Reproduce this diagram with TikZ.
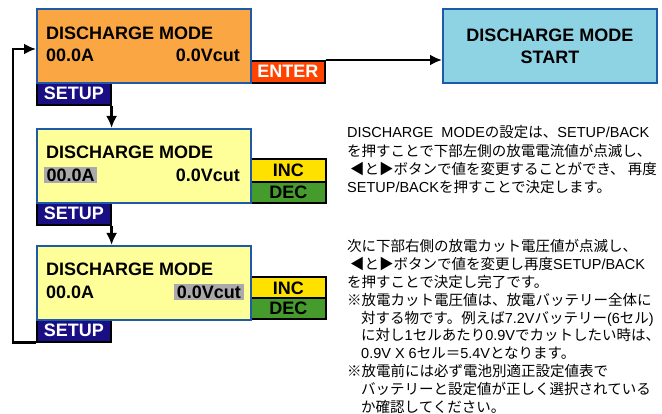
\documentclass[tikz,border=0pt]{standalone}
\usepackage{fontspec}
\setmainfont{Liberation Sans}
\newfontfamily\jp{Noto Sans CJK JP}
\usetikzlibrary{arrows.meta,calc}
\definecolor{orangefill}{RGB}{250,166,66}
\definecolor{yellowfill}{RGB}{255,255,153}
\definecolor{startfill}{RGB}{142,211,228}
\definecolor{boxblue}{RGB}{30,90,170}
\definecolor{setupnavy}{RGB}{25,15,130}
\definecolor{enterred}{RGB}{255,68,0}
\definecolor{incyellow}{RGB}{255,225,0}
\definecolor{decgreen}{RGB}{70,155,45}
\definecolor{hlgray}{RGB}{170,170,170}
\begin{document}
\begin{tikzpicture}[x=1pt,y=-1pt,
  panel/.style={draw=boxblue, line width=2pt, minimum width=214pt, minimum height=74pt, inner sep=0pt, anchor=north west},
  keybox/.style={draw=black, line width=1.6pt, inner sep=0pt, anchor=north west, font=\bfseries\fontsize{18}{20}\selectfont},
  setupkey/.style={keybox, fill=setupnavy, text=white, minimum width=74pt, minimum height=22pt},
  inckey/.style={keybox, fill=incyellow, minimum width=75pt, minimum height=23pt},
  deckey/.style={keybox, fill=decgreen, minimum width=75pt, minimum height=21pt},
  lcd/.style={font=\bfseries\fontsize{18}{20}\selectfont, inner sep=0pt},
  hl/.style={lcd, fill=hlgray, inner xsep=2.5pt, inner ysep=1pt, text height=14pt, text depth=0.5pt},
  arr/.style={draw=black, line width=2.5pt, -{Latex[length=12pt,width=11pt]}},
  jtext/.style={anchor=base west, inner sep=0pt, font=\fontsize{14.5}{18}\selectfont}
]
\useasboundingbox (0,0) rectangle (662,414);

% key boxes behind panels
\node[keybox, fill=enterred, text=white, minimum width=74pt, minimum height=22pt] (enter) at (250,60) {ENTER};
\node[inckey] (inc2) at (250,158) {INC};
\node[deckey] (dec2) at (250,181) {DEC};
\node[inckey] (inc3) at (250,276) {INC};
\node[deckey] (dec3) at (250,297) {DEC};
\node[setupkey] (setup1) at (36,82) {SETUP};
\node[setupkey] (setup2) at (36,202) {SETUP};
\node[setupkey] (setup3) at (36,319) {SETUP};

% panels
\node[panel, fill=orangefill] (box1) at (36,8) {};
\node[panel, fill=yellowfill] (box2) at (36,128) {};
\node[panel, fill=yellowfill] (box3) at (36,245) {};
\node[panel, fill=startfill, align=center, font=\bfseries\fontsize{18}{22}\selectfont] (start) at (442,8) {DISCHARGE MODE\\START};

% panel texts
\node[lcd, anchor=base west] (t1a) at (46,40) {DISCHARGE MODE};
\node[lcd, anchor=base west] (t1b) at (46,62) {00.0A};
\node[lcd, anchor=base east] (t1c) at (240,62) {0.0Vcut};
\node[lcd, anchor=base west] (t2a) at (46,159) {DISCHARGE MODE};
\node[hl, anchor=base west] (t2b) at (44,182) {00.0A};
\node[lcd, anchor=base east] (t2c) at (240,182) {0.0Vcut};
\node[lcd, anchor=base west] (t3a) at (46,276) {DISCHARGE MODE};
\node[lcd, anchor=base west] (t3b) at (46,299) {00.0A};
\node[hl, anchor=base east, inner xsep=3pt] (t3c) at (244,299) {0.0Vcut};

% connectors
\draw[arr] (enter.north east) -- (start.west |- enter.north east);
\draw[arr] (setup1.south east) -- (box2.north -| setup1.south east);
\draw[arr] (setup2.south east) -- (box3.north -| setup2.south east);
\coordinate (loopin) at ($(box1.west)+(0,3)$);
\draw[arr] (setup3.south west) -- ++(-23,0) |- (loopin);

% description texts
\node[jtext] (d1) at (347,138) {DISCHARGE\ \ MODE{\jp の設定は、}SETUP/BACK};
\node[jtext] (d2) at (347,156.2) {\jp を押すことで下部左側の放電電流値が点滅し、};
\node[jtext] (d3) at (350,174.4) {\jp ◀と▶ボタンで値を変更することができ、\ 再度};
\node[jtext] (d4) at (347,192.6) {SETUP/BACK{\jp を押すことで決定します。}};

\node[jtext] (e1) at (347,252) {\jp 次に下部右側の放電カット電圧値が点滅し、};
\node[jtext] (e2) at (350,269.8) {{\jp ◀と▶ボタンで値を変更し再度}SETUP/BACK};
\node[jtext] (e3) at (347,287.6) {\jp を押すことで決定し完了です。};
\node[jtext] (e4) at (347,305.4) {\jp ※放電カット電圧値は、放電バッテリー全体に};
\node[jtext] (e5) at (361,323.2) {{\jp 対する物です。例えば}7.2V{\jp バッテリー}(6{\jp セル})};
\node[jtext] (e6) at (361,341.0) {{\jp に対し}1{\jp セルあたり}0.9V{\jp でカットしたい時は、}};
\node[jtext] (e7) at (361,358.8) {0.9V X 6{\jp セル＝}5.4V{\jp となります。}};
\node[jtext] (e8) at (347,376.6) {\jp ※放電前には必ず電池別適正設定値表で};
\node[jtext] (e9) at (361,394.4) {\jp バッテリーと設定値が正しく選択されている};
\node[jtext] (e10) at (361,412.2) {\jp か確認してください。};
\end{tikzpicture}
\end{document}
